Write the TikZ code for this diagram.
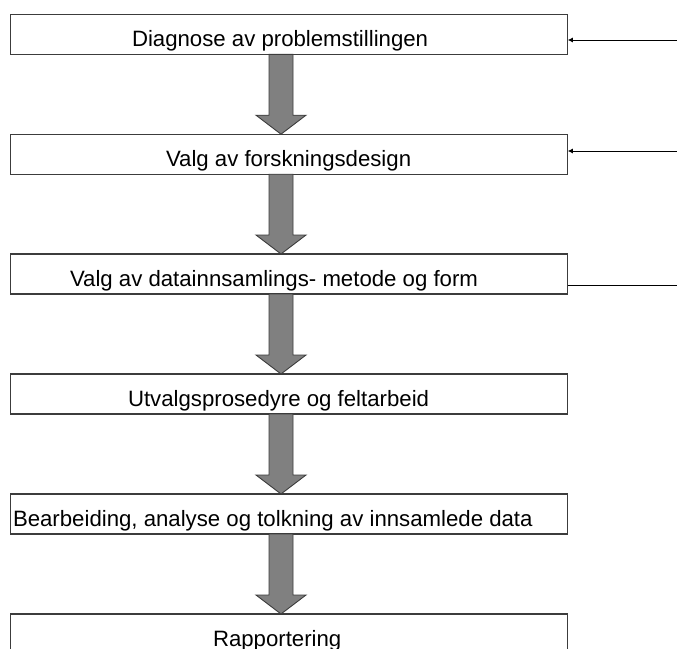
\documentclass[tikz,border=0pt]{standalone}
\usepackage{fontspec}
\setmainfont{Liberation Sans}
\usetikzlibrary{calc,arrows.meta}

\definecolor{boxline}{HTML}{3C3C3C}
\definecolor{arrowfill}{HTML}{808080}

\tikzset{
  stepbox/.style={draw=boxline, line width=1.3pt, fill=white, rectangle,
    minimum width=557.5pt, minimum height=40pt, inner sep=0pt, outer sep=0pt},
  lbl/.style={inner sep=0pt, outer sep=0pt, text=black,
    font=\fontsize{22.2}{26}\selectfont},
  blockarrow/.style={draw=boxline, line width=0.9pt, fill=arrowfill, line join=miter},
  sidearrow/.style={draw=black, line width=1pt, -{Latex[length=5pt,width=5pt]}},
  sideline/.style={draw=black, line width=1pt}
}

% downward block arrow from the bottom of #1 to the top of #2
\newcommand\blockdown[2]{%
  \draw[blockarrow]
    ($(#1.south)+(-20,0)$) -- ($(#2.north)+(-20,-19)$) -- ($(#2.north)+(-33,-19)$)
    -- ($(#2.north)+(-8,0)$) -- ($(#2.north)+(17,-19)$) -- ($(#2.north)+(4,-19)$)
    -- ($(#1.south)+(4,0)$) -- cycle;}

\begin{document}
\begin{tikzpicture}[x=1pt,y=-1pt]
  \useasboundingbox (0,0) rectangle (677,648);

  % process steps
  \node[stepbox] (b1) at (289,34.4) {};
  \node[stepbox] (b2) at (289,154.2) {};
  \node[stepbox] (b3) at (289,274) {};
  \node[stepbox] (b4) at (289,394) {};
  \node[stepbox] (b5) at (289,514) {};
  \node[stepbox] (b6) at (289,634) {};

  % step labels
  \node[lbl, anchor=base west] (t1) at (132,46.5) {Diagnose av problemstillingen};
  \node[lbl, anchor=base west] (t2) at (166,166.3) {Valg av forskningsdesign};
  \node[lbl, anchor=base west] (t3) at (70,286) {Valg av datainnsamlings- metode og form};
  \node[lbl, anchor=base west] (t4) at (128,406) {Utvalgsprosedyre og feltarbeid};
  \node[lbl, anchor=base west] (t5) at (13,526) {Bearbeiding, analyse og tolkning av innsamlede data};
  \node[lbl, anchor=base west] (t6) at (213,646) {Rapportering};

  % flow between steps
  \blockdown{b1}{b2}
  \blockdown{b2}{b3}
  \blockdown{b3}{b4}
  \blockdown{b4}{b5}
  \blockdown{b5}{b6}

  % feedback lines on the right
  \coordinate (f1) at (677,40);
  \coordinate (f2) at (677,151);
  \coordinate (f3) at (677,285);
  \draw[sidearrow] (f1) -- (b1.east |- f1);
  \draw[sidearrow] (f2) -- (b2.east |- f2);
  \draw[sideline] (b3.east |- f3) -- (f3);
\end{tikzpicture}
\end{document}
